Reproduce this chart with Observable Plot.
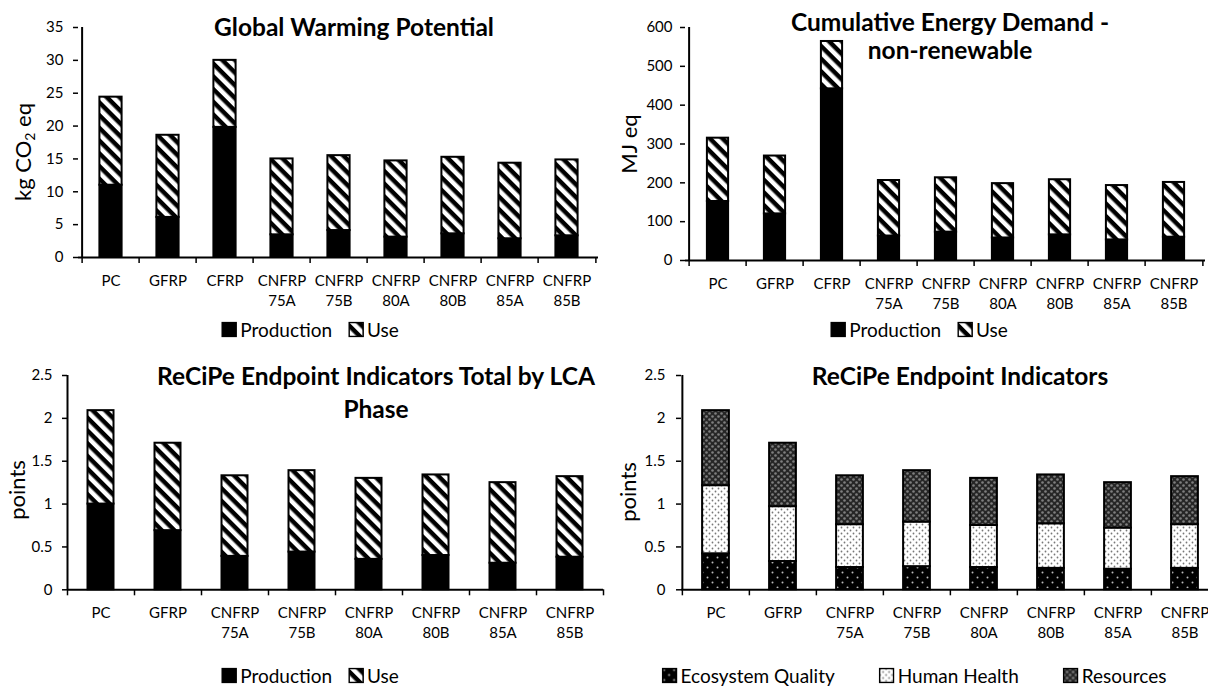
<!DOCTYPE html>
<html><head><meta charset="utf-8">
<script src="https://cdn.jsdelivr.net/npm/d3@7"></script>
<script src="https://cdn.jsdelivr.net/npm/@observablehq/plot@0.6"></script>
<style>
html,body{margin:0;padding:0;background:#fff;}
body{width:1208px;height:686px;overflow:hidden;position:relative;font-family:Lato,"Open Sans",sans-serif;color:#000;}
.panel{position:absolute;}
.panel svg{max-width:none !important;}
.title{position:absolute;transform:translateX(-50%);white-space:nowrap;font-weight:bold;font-size:24.5px;text-align:center;}
.ylab{position:absolute;transform:translate(-50%,-50%) rotate(-90deg);white-space:nowrap;font-size:22px;line-height:1;}
.ylab sub{font-size:14px;vertical-align:-4px;line-height:0;}
.legend{position:absolute;transform:translate(-50%,-50%);display:flex;align-items:center;white-space:nowrap;font-size:19px;line-height:1;}
.legend .item{display:flex;align-items:center;margin:0 8px;}
.legend svg{margin-right:3px;display:block;}
</style></head><body>
<svg width="0" height="0" style="position:absolute">
<defs>
<pattern id="hatch" patternUnits="userSpaceOnUse" width="9" height="9" patternTransform="rotate(45)">
<rect width="9" height="9" fill="white"/><rect width="9" height="4.5" fill="black"/>
</pattern>
<pattern id="eq" patternUnits="userSpaceOnUse" width="10" height="10">
<rect width="10" height="10" fill="black"/><circle cx="2.5" cy="2.5" r="1" fill="#bbb"/><circle cx="7.5" cy="7.5" r="1" fill="#bbb"/>
</pattern>
<pattern id="hh" patternUnits="userSpaceOnUse" width="6" height="6">
<rect width="6" height="6" fill="white"/><circle cx="1.5" cy="1.5" r="0.9" fill="#777"/><circle cx="4.5" cy="4.5" r="0.9" fill="#777"/>
</pattern>
<pattern id="res" patternUnits="userSpaceOnUse" width="6" height="6">
<rect width="6" height="6" fill="#262626"/><circle cx="1.5" cy="1.5" r="1.3" fill="#7f7f7f"/><circle cx="4.5" cy="4.5" r="1.3" fill="#7f7f7f"/>
</pattern>
</defs></svg>
<script>
// ---------- data ----------
const lcaCategories = ["PC","GFRP","CFRP","CNFRP 75A","CNFRP 75B","CNFRP 80A","CNFRP 80B","CNFRP 85A","CNFRP 85B"];
const gwpProduction = [11.0, 6.1, 19.8, 3.45, 4.1, 3.1, 3.6, 2.85, 3.3];
const gwpUse        = [13.4, 12.5, 10.2, 11.55, 11.4, 11.6, 11.65, 11.5, 11.55];
const cedProduction = [152, 120, 442, 63, 73, 58, 66, 53, 60];
const cedUse        = [163, 149, 122, 143, 140, 140, 142, 140, 141];

const recipeCategories = ["PC","GFRP","CNFRP 75A","CNFRP 75B","CNFRP 80A","CNFRP 80B","CNFRP 85A","CNFRP 85B"];
const recipeProduction = [1.0, 0.69, 0.39, 0.44, 0.355, 0.40, 0.31, 0.38];
const recipeUse        = [1.09, 1.02, 0.94, 0.95, 0.945, 0.94, 0.94, 0.94];
const ecosystemQuality = [0.42, 0.33, 0.26, 0.27, 0.26, 0.25, 0.24, 0.25];
const humanHealth      = [0.795, 0.64, 0.50, 0.52, 0.49, 0.52, 0.48, 0.51];
const resources        = [0.875, 0.74, 0.57, 0.60, 0.55, 0.57, 0.53, 0.56];

const gwpTicks = [0,5,10,15,20,25,30,35];
const cedTicks = [0,100,200,300,400,500,600];
const recipeTicks = [0,0.5,1,1.5,2,2.5];

// ---------- chart builder ----------
function stackedChart({cats, series, yMax, yTicks, left, top, width, height, mL, mR, mT, mB, inset, pad}) {
  const rows = [];
  for (const s of series) cats.forEach((c, i) => rows.push({cat: c, key: s.name, value: s.values[i]}));
  const bw = (width - mL - mR) / cats.length;
  const chart = Plot.plot({
    width, height, marginLeft: mL, marginRight: mR, marginTop: mT, marginBottom: mB,
    style: {fontFamily: "Lato, sans-serif", fontSize: "15px", color: "black", background: "transparent", overflow: "visible", maxWidth: "none"},
    x: {domain: cats, padding: 0},
    y: {domain: [0, yMax]},
    color: {domain: series.map(s => s.name), range: series.map(s => s.fill)},
    marks: [
      Plot.barY(rows, {x: "cat", y: "value", fill: "key", stroke: "black", strokeWidth: 2, insetLeft: inset, insetRight: inset}),
      Plot.ruleY([0], {stroke: "black", strokeWidth: 2}),
      Plot.ruleX([cats[0]], {dx: -bw / 2, y1: 0, y2: yMax, stroke: "black", strokeWidth: 2}),
      Plot.axisY({ticks: yTicks, tickSize: 5, tickPadding: pad, tickFormat: d => String(d), strokeWidth: 1.5, fontSize: 15, label: null}),
      Plot.axisX({tickSize: 0, tickPadding: 14, tickFormat: d => d.replace(" ", "\n"), lineHeight: 1.33, fontSize: 15, label: null}),
      Plot.axisX({text: null, tickSize: 6, dx: -bw / 2, strokeWidth: 1.5, label: null}),
      Plot.axisX({ticks: [cats[cats.length - 1]], text: null, tickSize: 6, dx: bw / 2, strokeWidth: 1.5, label: null})
    ]
  });
  const div = document.createElement("div");
  div.className = "panel";
  div.style.left = left + "px";
  div.style.top = top + "px";
  div.style.width = width + "px";
  div.style.height = height + "px";
  div.appendChild(chart);
  document.body.appendChild(div);
}

const PROD = "black", USE = "url(#hatch)";

stackedChart({cats: lcaCategories, series: [{name: "Production", values: gwpProduction, fill: PROD}, {name: "Use", values: gwpUse, fill: USE}],
  yMax: 35, yTicks: gwpTicks, left: 0, top: 0, width: 600, height: 305, mL: 78, mR: 2, mT: 27, mB: 48, inset: 17.4, pad: 10});
stackedChart({cats: lcaCategories, series: [{name: "Production", values: cedProduction, fill: PROD}, {name: "Use", values: cedUse, fill: USE}],
  yMax: 600, yTicks: cedTicks, left: 600, top: 0, width: 608, height: 305, mL: 85, mR: 3, mT: 27, mB: 45, inset: 17.9, pad: 8});
stackedChart({cats: recipeCategories, series: [{name: "Production", values: recipeProduction, fill: PROD}, {name: "Use", values: recipeUse, fill: USE}],
  yMax: 2.5, yTicks: recipeTicks, left: 0, top: 340, width: 605, height: 305, mL: 67, mR: 2, mT: 35, mB: 55.7, inset: 20.5, pad: 10});
stackedChart({cats: recipeCategories, series: [{name: "Ecosystem Quality", values: ecosystemQuality, fill: "url(#eq)"}, {name: "Human Health", values: humanHealth, fill: "url(#hh)"}, {name: "Resources", values: resources, fill: "url(#res)"}],
  yMax: 2.5, yTicks: recipeTicks, left: 600, top: 340, width: 620, height: 305, mL: 81, mR: 1, mT: 35, mB: 55.7, inset: 20.1, pad: 11});

// ---------- titles, axis labels, legends ----------
function addDiv(cls, html, css) {
  const d = document.createElement("div");
  d.className = cls; d.innerHTML = html;
  Object.assign(d.style, css);
  document.body.appendChild(d);
}
addDiv("title", "Global Warming Potential", {left: "354px", top: "13px", lineHeight: "28px"});
addDiv("title", "Cumulative Energy Demand -<br>non-renewable", {left: "950px", top: "8px", lineHeight: "28px"});
addDiv("title", "ReCiPe Endpoint Indicators Total by LCA<br>Phase", {left: "376px", top: "359px", lineHeight: "33px"});
addDiv("title", "ReCiPe Endpoint Indicators", {left: "960px", top: "359px", lineHeight: "33px"});

addDiv("ylab", "kg CO<sub>2</sub> eq", {left: "23px", top: "152px"});
addDiv("ylab", "MJ eq", {left: "629px", top: "144px"});
addDiv("ylab", "points", {left: "17px", top: "490px"});
addDiv("ylab", "points", {left: "628px", top: "492px"});

function sw(fill) {
  return `<svg width="16" height="16"><rect x="1" y="1" width="14" height="14" fill="${fill}" stroke="black" stroke-width="1.5"/></svg>`;
}
const phaseLegend = `<span class="item">${sw("black")}Production</span><span class="item">${sw("url(#hatch)")}Use</span>`;
addDiv("legend", phaseLegend, {left: "310px", top: "329px"});
addDiv("legend", phaseLegend, {left: "919px", top: "329px"});
addDiv("legend", phaseLegend, {left: "310px", top: "675px"});
addDiv("legend", `<span class="item" style="margin-right:36px">${sw("url(#eq)")}Ecosystem Quality</span><span class="item" style="margin-right:36px">${sw("url(#hh)")}Human Health</span><span class="item">${sw("url(#res)")}Resources</span>`, {left: "914px", top: "675px"});
</script>
</body></html>
